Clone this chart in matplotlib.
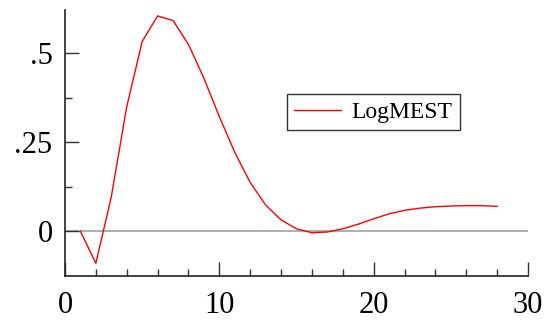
import numpy as np
import matplotlib
matplotlib.use("Agg")
import matplotlib.pyplot as plt

# =========================
# DATA
# =========================
horizon = [1, 2, 3, 4, 5, 6, 7, 8, 9, 10, 11, 12, 13, 14,
           15, 16, 17, 18, 19, 20, 21, 22, 23, 24, 25, 26, 27, 28]
logmest = [0.0, -0.09, 0.097, 0.35, 0.533, 0.605, 0.592, 0.525, 0.43, 0.322,
           0.222, 0.137, 0.074, 0.032, 0.007, -0.004, -0.002, 0.007, 0.020,
           0.035, 0.049, 0.059, 0.065, 0.069, 0.071, 0.072, 0.072, 0.070]

x_ticks = [0, 10, 20, 30]
y_ticks = [0, 0.25, 0.5]
y_labels = ["0", ".25", ".5"]

plt.rcParams["font.family"] = ["Liberation Serif", "DejaVu Serif"]

fig = plt.figure(figsize=(5.44, 3.23), dpi=100)
ax = fig.add_axes([0.1195, 0.1455, 0.851, 0.8235])

ax.axhline(0, color="#999999", linewidth=1.1, zorder=1)
ax.plot(horizon, logmest, color="red", linewidth=1.0, label="LogMEST", zorder=2)

ax.set_xlim(0, 30)
ax.set_ylim(-0.1256, 0.6216)

ax.set_xticks(x_ticks)
ax.set_xticks(np.arange(0, 31, 2), minor=True)
ax.set_yticks(y_ticks)
ax.set_yticklabels(y_labels)
ax.set_yticks(np.arange(0, 0.62, 0.125), minor=True)

ax.tick_params(axis="both", which="major", direction="in", length=10,
               width=1, labelsize=22, color="#333333")
ax.tick_params(axis="both", which="minor", direction="in", length=5,
               width=1, color="#333333")
ax.tick_params(axis="x", pad=11)
ax.tick_params(axis="y", pad=9)

for s in ["top", "right"]:
    ax.spines[s].set_visible(False)
for s in ["left", "bottom"]:
    ax.spines[s].set_linewidth(1.2)
    ax.spines[s].set_color("#222222")

leg = ax.legend(loc="lower left", bbox_to_anchor=(0.479, 0.549), fontsize=17,
                frameon=True, fancybox=False, edgecolor="black",
                handlelength=2.0, borderpad=0.3, handletextpad=0.45,
                borderaxespad=0)
leg.get_frame().set_linewidth(1.0)

fig.savefig("out.png", dpi=100)
